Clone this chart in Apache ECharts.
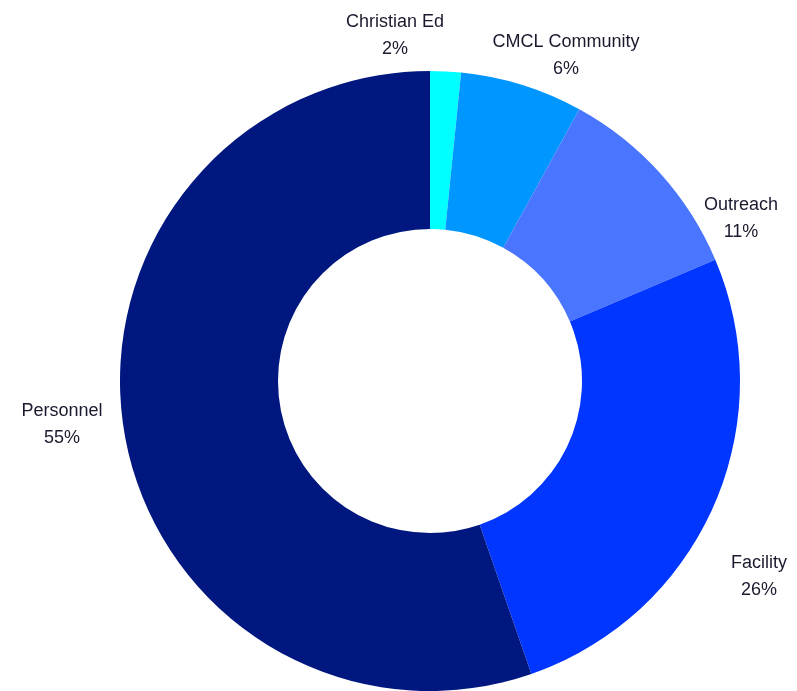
<!DOCTYPE html>
<html>
<head>
<meta charset="utf-8">
<script src="https://cdn.jsdelivr.net/npm/echarts@6/dist/echarts.min.js"></script>
<style>
  html, body { margin: 0; padding: 0; background: #fff; }
  #chart { width: 797px; height: 691px; }
</style>
</head>
<body>
<div id="chart"></div>
<script>
let categories = ['Christian Ed', 'CMCL Community', 'Outreach', 'Facility', 'Personnel'];
let values = [1.6, 6.4, 10.6, 26.1, 55.3];
let colors = ['#00ffff', '#0096ff', '#4a76ff', '#0036ff', '#00177f'];

// where each label sits (centre of the two-line block)
let labelSpots = [[395, 36], [566, 56], [741, 219], [759, 577], [62, 425]];

let chart = echarts.init(document.getElementById('chart'));

let option = {
    animation: false,
    series: [
        {
            type: 'pie',
            center: [430, 381],
            radius: [152, 310],
            startAngle: 90,
            clockwise: true,
            percentPrecision: 0,
            data: categories.map(function (name, i) {
                return { name: name, value: values[i], itemStyle: { color: colors[i] } };
            }),
            label: {
                show: true,
                position: 'outside',
                formatter: '{b}\n{d}%',
                fontFamily: 'Liberation Sans, Arial, sans-serif',
                fontSize: 18,
                lineHeight: 27,
                color: '#1a1a2e',
                align: 'center',
                overflow: 'none',
                edgeDistance: 0
            },
            labelLine: { show: false },
            labelLayout: function (params) {
                let p = labelSpots[params.dataIndex];
                return { x: p[0], y: p[1], align: 'center', verticalAlign: 'middle', width: 200 };
            },
            emphasis: { disabled: true }
        }
    ]
};

chart.setOption(option);
</script>
</body>
</html>
